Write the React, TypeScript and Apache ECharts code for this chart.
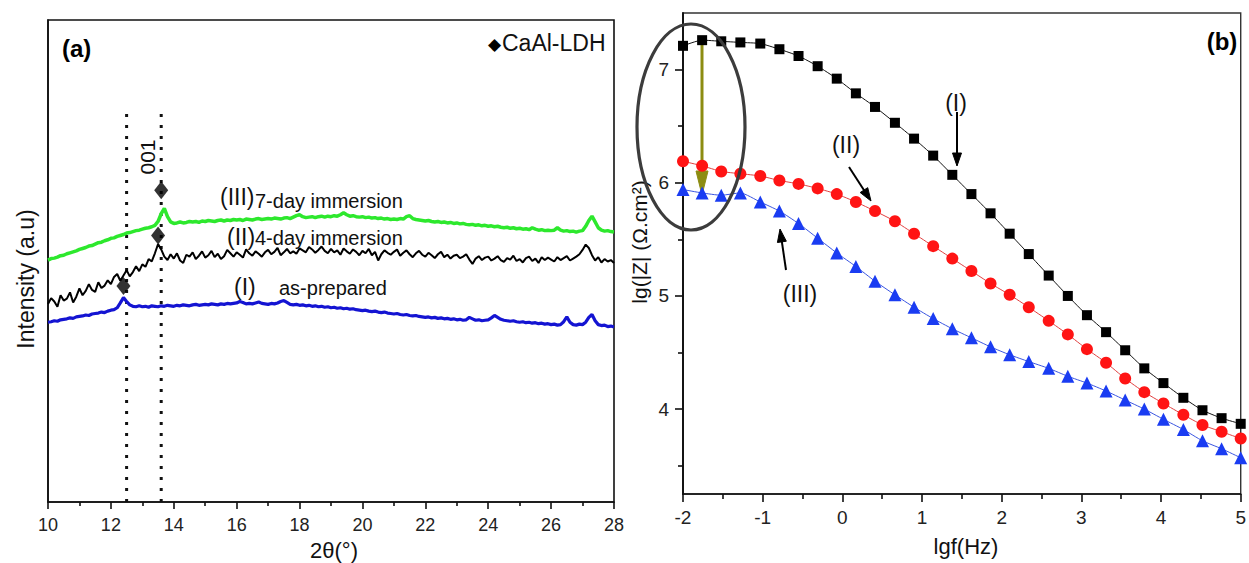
import React, { useEffect, useRef } from "react";
import * as echarts from "echarts";

// ---------- Panel (a): XRD patterns (2θ grid: 10.0 .. 28.0, step 0.1) ----------
const THETA_START = 10;
const THETA_STEP = 0.1;

const XRD_7DAY = [
  50.2, 50.5, 50.6, 50.8, 51.1, 51.2, 51.5, 51.7, 51.9, 52.1,
  52.4, 52.6, 52.8, 53.1, 53.2, 53.5, 53.8, 53.9, 54.2, 54.4,
  54.7, 54.8, 55.1, 55.3, 55.5, 55.8, 55.9, 56.1, 56.3, 56.4,
  56.6, 56.8, 56.9, 57.1, 57.4, 58.2, 59.8, 60.9, 59.2, 58.1,
  57.8, 57.9, 58.1, 57.9, 58.0, 58.2, 58.1, 58.2, 58.0, 58.3,
  58.2, 58.4, 58.3, 58.2, 58.4, 58.5, 58.3, 58.5, 58.4, 58.6,
  58.5, 58.6, 58.4, 58.7, 58.6, 58.5, 58.7, 58.8, 58.6, 58.7,
  58.8, 58.7, 58.9, 58.8, 58.7, 58.9, 59.0, 58.8, 59.1, 59.4,
  59.6, 59.2, 59.0, 59.1, 59.2, 59.0, 59.2, 59.3, 59.1, 59.3,
  59.2, 59.4, 59.3, 59.6, 60.0, 59.6, 59.3, 59.4, 59.2, 59.1,
  59.2, 59.0, 59.1, 58.9, 59.0, 58.8, 58.9, 58.7, 58.8, 58.6,
  58.7, 58.6, 58.8, 58.7, 59.2, 59.4, 58.8, 58.6, 58.5, 58.4,
  58.3, 58.4, 58.2, 58.1, 58.2, 58.0, 58.1, 57.9, 58.0, 57.8,
  57.9, 57.7, 57.8, 57.6, 57.5, 57.6, 57.4, 57.5, 57.3, 57.4,
  57.2, 57.3, 57.1, 57.2, 57.0, 56.9, 57.0, 56.8, 56.9, 56.7,
  56.8, 56.6, 56.7, 56.5, 56.9, 56.6, 56.4, 56.5, 56.3, 56.4,
  56.3, 56.4, 56.9, 56.4, 56.2, 56.3, 56.1, 56.2, 56.0, 56.2,
  56.3, 57.2, 58.4, 59.3, 58.1, 56.9, 56.4, 56.2, 56.3, 56.1,
  56.0,
];

const XRD_4DAY = [
  41.1, 42.3, 41.6, 40.5, 42.9, 41.8, 42.2, 43.5, 41.4, 42.6,
  44.3, 42.9, 43.8, 45.2, 44.0, 43.6, 45.6, 44.4, 44.9, 46.0,
  45.2, 46.7, 47.3, 45.9, 47.0, 48.1, 46.8, 47.7, 48.9, 47.9,
  49.3, 48.8, 50.4, 49.9, 51.6, 53.5, 52.4, 50.9, 50.2, 51.4,
  50.5, 51.6, 50.1, 49.6, 51.3, 50.9, 51.8, 50.4, 51.1, 52.0,
  50.7, 51.2, 52.1, 50.8, 51.5, 50.4, 51.0, 52.3, 51.6, 50.9,
  51.8, 51.3, 50.7, 52.4, 51.6, 51.1, 52.0, 51.5, 50.9, 51.8,
  52.3, 51.4, 51.9, 52.7, 51.2, 51.8, 52.5, 51.6, 52.0, 51.5,
  52.6, 52.2, 51.8, 52.9, 52.4, 51.7, 52.3, 53.0, 52.1, 51.6,
  52.5, 51.8, 52.2, 51.3, 52.6, 52.0, 51.5, 52.4, 51.9, 51.2,
  52.1, 51.6, 52.5, 51.2, 51.9, 50.1, 51.4, 52.2, 51.7, 51.3,
  51.9, 52.4, 51.1, 51.7, 52.2, 51.4, 50.8, 51.6, 52.1, 51.3,
  50.9, 51.7, 51.2, 50.6, 51.4, 51.9, 50.8, 51.3, 50.5, 51.1,
  51.3, 50.6, 50.9, 51.4, 50.3, 49.4, 50.5, 51.0, 50.2, 50.7,
  50.9, 50.1, 50.5, 51.0, 50.2, 49.8, 50.6, 50.3, 51.1, 50.0,
  50.4, 49.7, 50.6, 50.9, 50.0, 50.5, 49.6, 50.8, 50.2, 50.7,
  50.3, 49.9, 50.8, 50.2, 50.6, 51.0, 50.1, 50.5, 50.9, 51.4,
  52.3, 53.4, 52.7, 51.2, 50.1, 50.8, 49.7, 50.4, 49.9, 50.2,
  49.6,
];

const XRD_ASPREP = [
  37.3, 37.4, 37.6, 37.5, 37.8, 37.9, 38.0, 38.2, 38.1, 38.4,
  38.5, 38.6, 38.8, 38.7, 39.0, 39.1, 39.2, 39.4, 39.3, 39.6,
  39.8, 39.9, 40.3, 41.3, 42.4, 41.6, 40.9, 40.6, 40.5, 40.7,
  40.5, 40.6, 40.4, 40.7, 40.6, 40.5, 40.7, 40.6, 40.8, 40.7,
  40.6, 40.8, 40.7, 40.9, 40.8, 40.7, 40.9, 41.0, 40.8, 40.9,
  41.0, 40.9, 41.1, 41.0, 40.9, 41.1, 41.0, 41.2, 41.1, 41.2,
  41.3, 41.6, 41.4, 41.1, 41.2, 41.1, 41.3, 41.5, 41.2, 41.1,
  41.0, 41.2, 41.1, 41.3, 41.6, 41.8, 41.4, 41.0, 40.9, 41.0,
  40.8, 40.9, 40.7, 40.8, 40.6, 40.7, 40.5, 40.6, 40.4, 40.5,
  40.3, 40.4, 40.2, 40.3, 40.1, 40.2, 40.0, 40.1, 39.9, 39.8,
  39.7, 39.8, 39.6, 39.5, 39.6, 39.4, 39.3, 39.4, 39.2, 39.1,
  39.0, 39.1, 38.9, 38.8, 38.9, 38.7, 38.6, 38.7, 38.5, 38.4,
  38.3, 38.4, 38.2, 38.3, 38.1, 38.2, 38.0, 38.1, 37.9, 38.0,
  37.8, 37.9, 37.7, 37.8, 38.3, 38.0, 37.7, 37.8, 37.6, 37.7,
  37.8, 38.2, 38.7, 38.3, 37.9, 37.7, 37.6, 37.5, 37.6, 37.4,
  37.3, 37.4, 37.2, 37.3, 37.1, 37.2, 37.0, 37.1, 36.9, 37.0,
  36.8, 36.9, 36.7, 36.8, 37.4, 38.4, 37.3, 36.8, 36.7, 36.9,
  36.8, 37.3, 38.3, 38.9, 37.6, 36.8, 36.6, 36.7, 36.4, 36.5,
  36.3,
];

const LDH_MARKS = [
  [13.6, 64.7],
  [13.5, 55.3],
  [12.4, 44.8],
];
const REF_LINES_2THETA = [12.5, 13.6];
const REF_LINE_TOP = 81.7;
const XRD_TICKS = { min: 10, max: 28, interval: 2 };

// ---------- Panel (b): Bode |Z| ----------
const LGF = [
  -2, -1.76, -1.52, -1.28, -1.03, -0.79, -0.55, -0.31, -0.07, 0.17,
  0.41, 0.66, 0.9, 1.14, 1.38, 1.62, 1.86, 2.1, 2.34, 2.59,
  2.83, 3.07, 3.31, 3.55, 3.79, 4.03, 4.28, 4.52, 4.76, 5.0,
];
const LGZ_I = [
  7.21, 7.26, 7.25, 7.24, 7.23, 7.18, 7.12, 7.03, 6.92, 6.79,
  6.67, 6.53, 6.39, 6.24, 6.07, 5.9, 5.73, 5.55, 5.37, 5.18,
  5.0, 4.83, 4.68, 4.52, 4.36, 4.23, 4.1, 3.99, 3.92, 3.87,
];
const LGZ_II = [
  6.19, 6.15, 6.1, 6.08, 6.06, 6.02, 5.99, 5.95, 5.9, 5.83,
  5.75, 5.66, 5.55, 5.44, 5.33, 5.22, 5.11, 5.01, 4.9, 4.78,
  4.66, 4.53, 4.41, 4.27, 4.15, 4.05, 3.95, 3.86, 3.8, 3.74,
];
const LGZ_III = [
  5.94, 5.91, 5.89, 5.91, 5.83, 5.75, 5.64, 5.51, 5.38, 5.26,
  5.13, 5.01, 4.9, 4.8, 4.71, 4.63, 4.55, 4.48, 4.42, 4.36,
  4.29, 4.23, 4.16, 4.08, 4.0, 3.91, 3.82, 3.72, 3.65, 3.57,
];
const BODE_Y_LABELS = [4, 5, 6, 7];
const BODE_Y_MINOR = [3.5, 4.5, 5.5, 6.5];

const FONT = "Liberation Sans, Arial, sans-serif";

function xrdPairs(vals: number[]) {
  return vals.map((v, i) => [Number((THETA_START + i * THETA_STEP).toFixed(2)), v]);
}

function arrow(x1: number, y1: number, x2: number, y2: number, color: string, width: number, headLen: number, headW: number) {
  const dx = x2 - x1;
  const dy = y2 - y1;
  const len = Math.sqrt(dx * dx + dy * dy);
  const ux = dx / len;
  const uy = dy / len;
  const bx = x2 - ux * headLen;
  const by = y2 - uy * headLen;
  const px = -uy * headW / 2;
  const py = ux * headW / 2;
  return [
    {
      type: "line",
      shape: { x1, y1, x2: bx + ux * 2, y2: by + uy * 2 },
      style: { stroke: color, lineWidth: width },
      silent: true,
    },
    {
      type: "polygon",
      shape: { points: [[x2, y2], [bx + px, by + py], [bx - px, by - py]] },
      style: { fill: color, stroke: color, lineWidth: 1 },
      silent: true,
    },
  ];
}

function txt(text: string, x: number, y: number, size: number, opts: any = {}) {
  return {
    type: "text",
    x,
    y,
    rotation: opts.rotation || 0,
    silent: true,
    style: {
      text,
      fontSize: size,
      fontFamily: FONT,
      fontWeight: opts.bold ? "bold" : "normal",
      fill: opts.color || "#111",
      align: opts.align || "center",
      verticalAlign: "middle",
    },
  };
}

export default function App() {
  const ref = useRef<HTMLDivElement>(null);

  useEffect(() => {
    if (!ref.current) return;
    const chart = echarts.init(ref.current, undefined, { renderer: "svg" });

    const axisLineStyle = { color: "#111", width: 1.6 };

    const option: any = {
      animation: false,
      backgroundColor: "#fff",
      grid: [
        { left: 48, top: 20, width: 566, height: 482, show: true, borderColor: "#111", borderWidth: 1.6, backgroundColor: "transparent" },
        { left: 683, top: 13, width: 565, height: 481, show: true, borderColor: "#333", borderWidth: 1.4, backgroundColor: "transparent" },
      ],
      xAxis: [
        {
          type: "value",
          gridIndex: 0,
          min: XRD_TICKS.min,
          max: XRD_TICKS.max,
          interval: XRD_TICKS.interval,
          axisLine: { show: true, onZero: false, lineStyle: axisLineStyle },
          axisTick: { show: true, inside: false, length: 7, lineStyle: { color: "#111", width: 1.6 } },
          minorTick: { show: true, splitNumber: 2, length: 4, lineStyle: { color: "#111", width: 1.6 } },
          axisLabel: { show: true, fontSize: 18, fontFamily: FONT, color: "#222", margin: 14 },
          splitLine: { show: false },
          minorSplitLine: { show: false },
        },
        {
          type: "value",
          gridIndex: 1,
          min: -2,
          max: 5,
          interval: 1,
          axisLine: { show: true, onZero: false, lineStyle: axisLineStyle },
          axisTick: { show: true, inside: false, length: 8, lineStyle: { color: "#111", width: 1.6 } },
          minorTick: { show: true, splitNumber: 2, length: 5, lineStyle: { color: "#111", width: 1.6 } },
          axisLabel: { show: true, fontSize: 19, fontFamily: FONT, color: "#222", margin: 14 },
          splitLine: { show: false },
        },
      ],
      yAxis: [
        {
          type: "value",
          gridIndex: 0,
          min: 0,
          max: 100,
          axisLine: { show: true, onZero: false, lineStyle: axisLineStyle },
          axisTick: { show: false },
          axisLabel: { show: false },
          splitLine: { show: false },
        },
        {
          type: "value",
          gridIndex: 1,
          min: 3.25,
          max: 7.5,
          position: "left",
          axisLine: { show: true, onZero: false, lineStyle: axisLineStyle },
          axisTick: { show: true, inside: false, length: 8, customValues: BODE_Y_LABELS, lineStyle: { color: "#111", width: 1.6 } },
          axisLabel: { show: true, customValues: BODE_Y_LABELS, fontSize: 19, fontFamily: FONT, color: "#222", margin: 14 },
          splitLine: { show: false },
        },
        {
          type: "value",
          gridIndex: 1,
          min: 3.25,
          max: 7.5,
          position: "left",
          offset: 0,
          axisLine: { show: true, onZero: false, lineStyle: axisLineStyle },
          axisTick: { show: true, inside: false, length: 5, customValues: BODE_Y_MINOR, lineStyle: { color: "#111", width: 1.6 } },
          axisLabel: { show: false },
          splitLine: { show: false },
        },
      ],
      series: [
        {
          name: "7-day immersion",
          type: "line",
          xAxisIndex: 0,
          yAxisIndex: 0,
          data: xrdPairs(XRD_7DAY),
          showSymbol: false,
          symbol: "none",
          lineStyle: { color: "#2de82d", width: 3.5 },
          z: 3,
        },
        {
          name: "4-day immersion",
          type: "line",
          xAxisIndex: 0,
          yAxisIndex: 0,
          data: xrdPairs(XRD_4DAY),
          showSymbol: false,
          symbol: "none",
          lineStyle: { color: "#000", width: 2 },
          z: 3,
        },
        {
          name: "as-prepared",
          type: "line",
          xAxisIndex: 0,
          yAxisIndex: 0,
          data: xrdPairs(XRD_ASPREP),
          showSymbol: false,
          symbol: "none",
          lineStyle: { color: "#1414d2", width: 3.2 },
          z: 3,
        },
        ...REF_LINES_2THETA.map((t) => ({
          type: "line",
          xAxisIndex: 0,
          yAxisIndex: 0,
          data: [[t, 0], [t, REF_LINE_TOP]],
          showSymbol: false,
          symbol: "none",
          lineStyle: { color: "#111", width: 3, type: [3, 8] },
          z: 2,
        })),
        {
          name: "CaAl-LDH",
          type: "scatter",
          xAxisIndex: 0,
          yAxisIndex: 0,
          data: LDH_MARKS,
          symbol: "diamond",
          symbolSize: [14, 18],
          itemStyle: { color: "#000" },
          z: 5,
        },
        {
          name: "(I)",
          type: "line",
          xAxisIndex: 1,
          yAxisIndex: 1,
          data: LGF.map((x, i) => [x, LGZ_I[i]]),
          symbol: "rect",
          symbolSize: 10,
          itemStyle: { color: "#000" },
          lineStyle: { color: "#111", width: 1 },
          smooth: 0.2,
          z: 4,
        },
        {
          name: "(II)",
          type: "line",
          xAxisIndex: 1,
          yAxisIndex: 1,
          data: LGF.map((x, i) => [x, LGZ_II[i]]),
          symbol: "circle",
          symbolSize: 12,
          itemStyle: { color: "#ff1414" },
          lineStyle: { color: "#e04040", width: 1 },
          smooth: 0.2,
          z: 4,
        },
        {
          name: "(III)",
          type: "line",
          xAxisIndex: 1,
          yAxisIndex: 1,
          data: LGF.map((x, i) => [x, LGZ_III[i]]),
          symbol: "triangle",
          symbolSize: 13,
          itemStyle: { color: "#1a3cf2" },
          lineStyle: { color: "#3a55e0", width: 1 },
          smooth: 0.2,
          z: 4,
        },
      ],
      graphic: [
        // Panel (a) texts
        txt("(a)", 62, 48, 24, { bold: true, align: "left", color: "#000" }),
        txt("\u25C6", 494, 44, 17, { color: "#000" }),
        txt("CaAl-LDH", 502, 43, 23, { align: "left" }),
        txt("001", 147, 157, 21, { rotation: Math.PI / 2 }),
        txt("(III)", 220, 197, 23, { align: "left" }),
        txt("7-day immersion", 255, 201, 20, { align: "left" }),
        txt("(II)", 227, 237, 23, { align: "left" }),
        txt("4-day immersion", 255, 238, 20, { align: "left" }),
        txt("(I)", 234, 287, 23, { align: "left" }),
        txt("as-prepared", 279, 288, 20, { align: "left" }),
        txt("Intensity (a.u)", 26, 279, 23, { rotation: Math.PI / 2 }),
        txt("2\u03B8(\u00B0)", 334, 550, 22),
        // Panel (b) texts
        txt("(b)", 1222, 41, 24, { bold: true, color: "#000" }),
        txt("lg(|Z| (\u03A9.cm\u00B2)", 639, 242, 21, { rotation: Math.PI / 2 }),
        txt("lgf(Hz)", 966, 546, 22),
        txt("(I)", 956, 103, 23),
        txt("(II)", 846, 145, 23),
        txt("(III)", 800, 294, 23),
        // annotation shapes
        {
          type: "ellipse",
          shape: { cx: 691, cy: 127, rx: 54, ry: 103 },
          style: { fill: "none", stroke: "#3c3c3c", lineWidth: 3.2 },
          silent: true,
          z: 10,
        },
        ...arrow(702, 40, 702, 195, "#8c8c12", 3, 24, 12),
        ...arrow(957, 112, 957, 166, "#000", 2, 13, 9),
        ...arrow(849, 167, 871, 201, "#000", 2, 13, 9),
        ...arrow(786, 270, 780, 229, "#000", 2, 13, 9),
      ],
    };

    chart.setOption(option);
    return () => chart.dispose();
  }, []);

  return (
    <div
      ref={ref}
      style={{ position: "fixed", left: 0, top: 0, width: 1249, height: 563, background: "#fff" }}
    />
  );
}
